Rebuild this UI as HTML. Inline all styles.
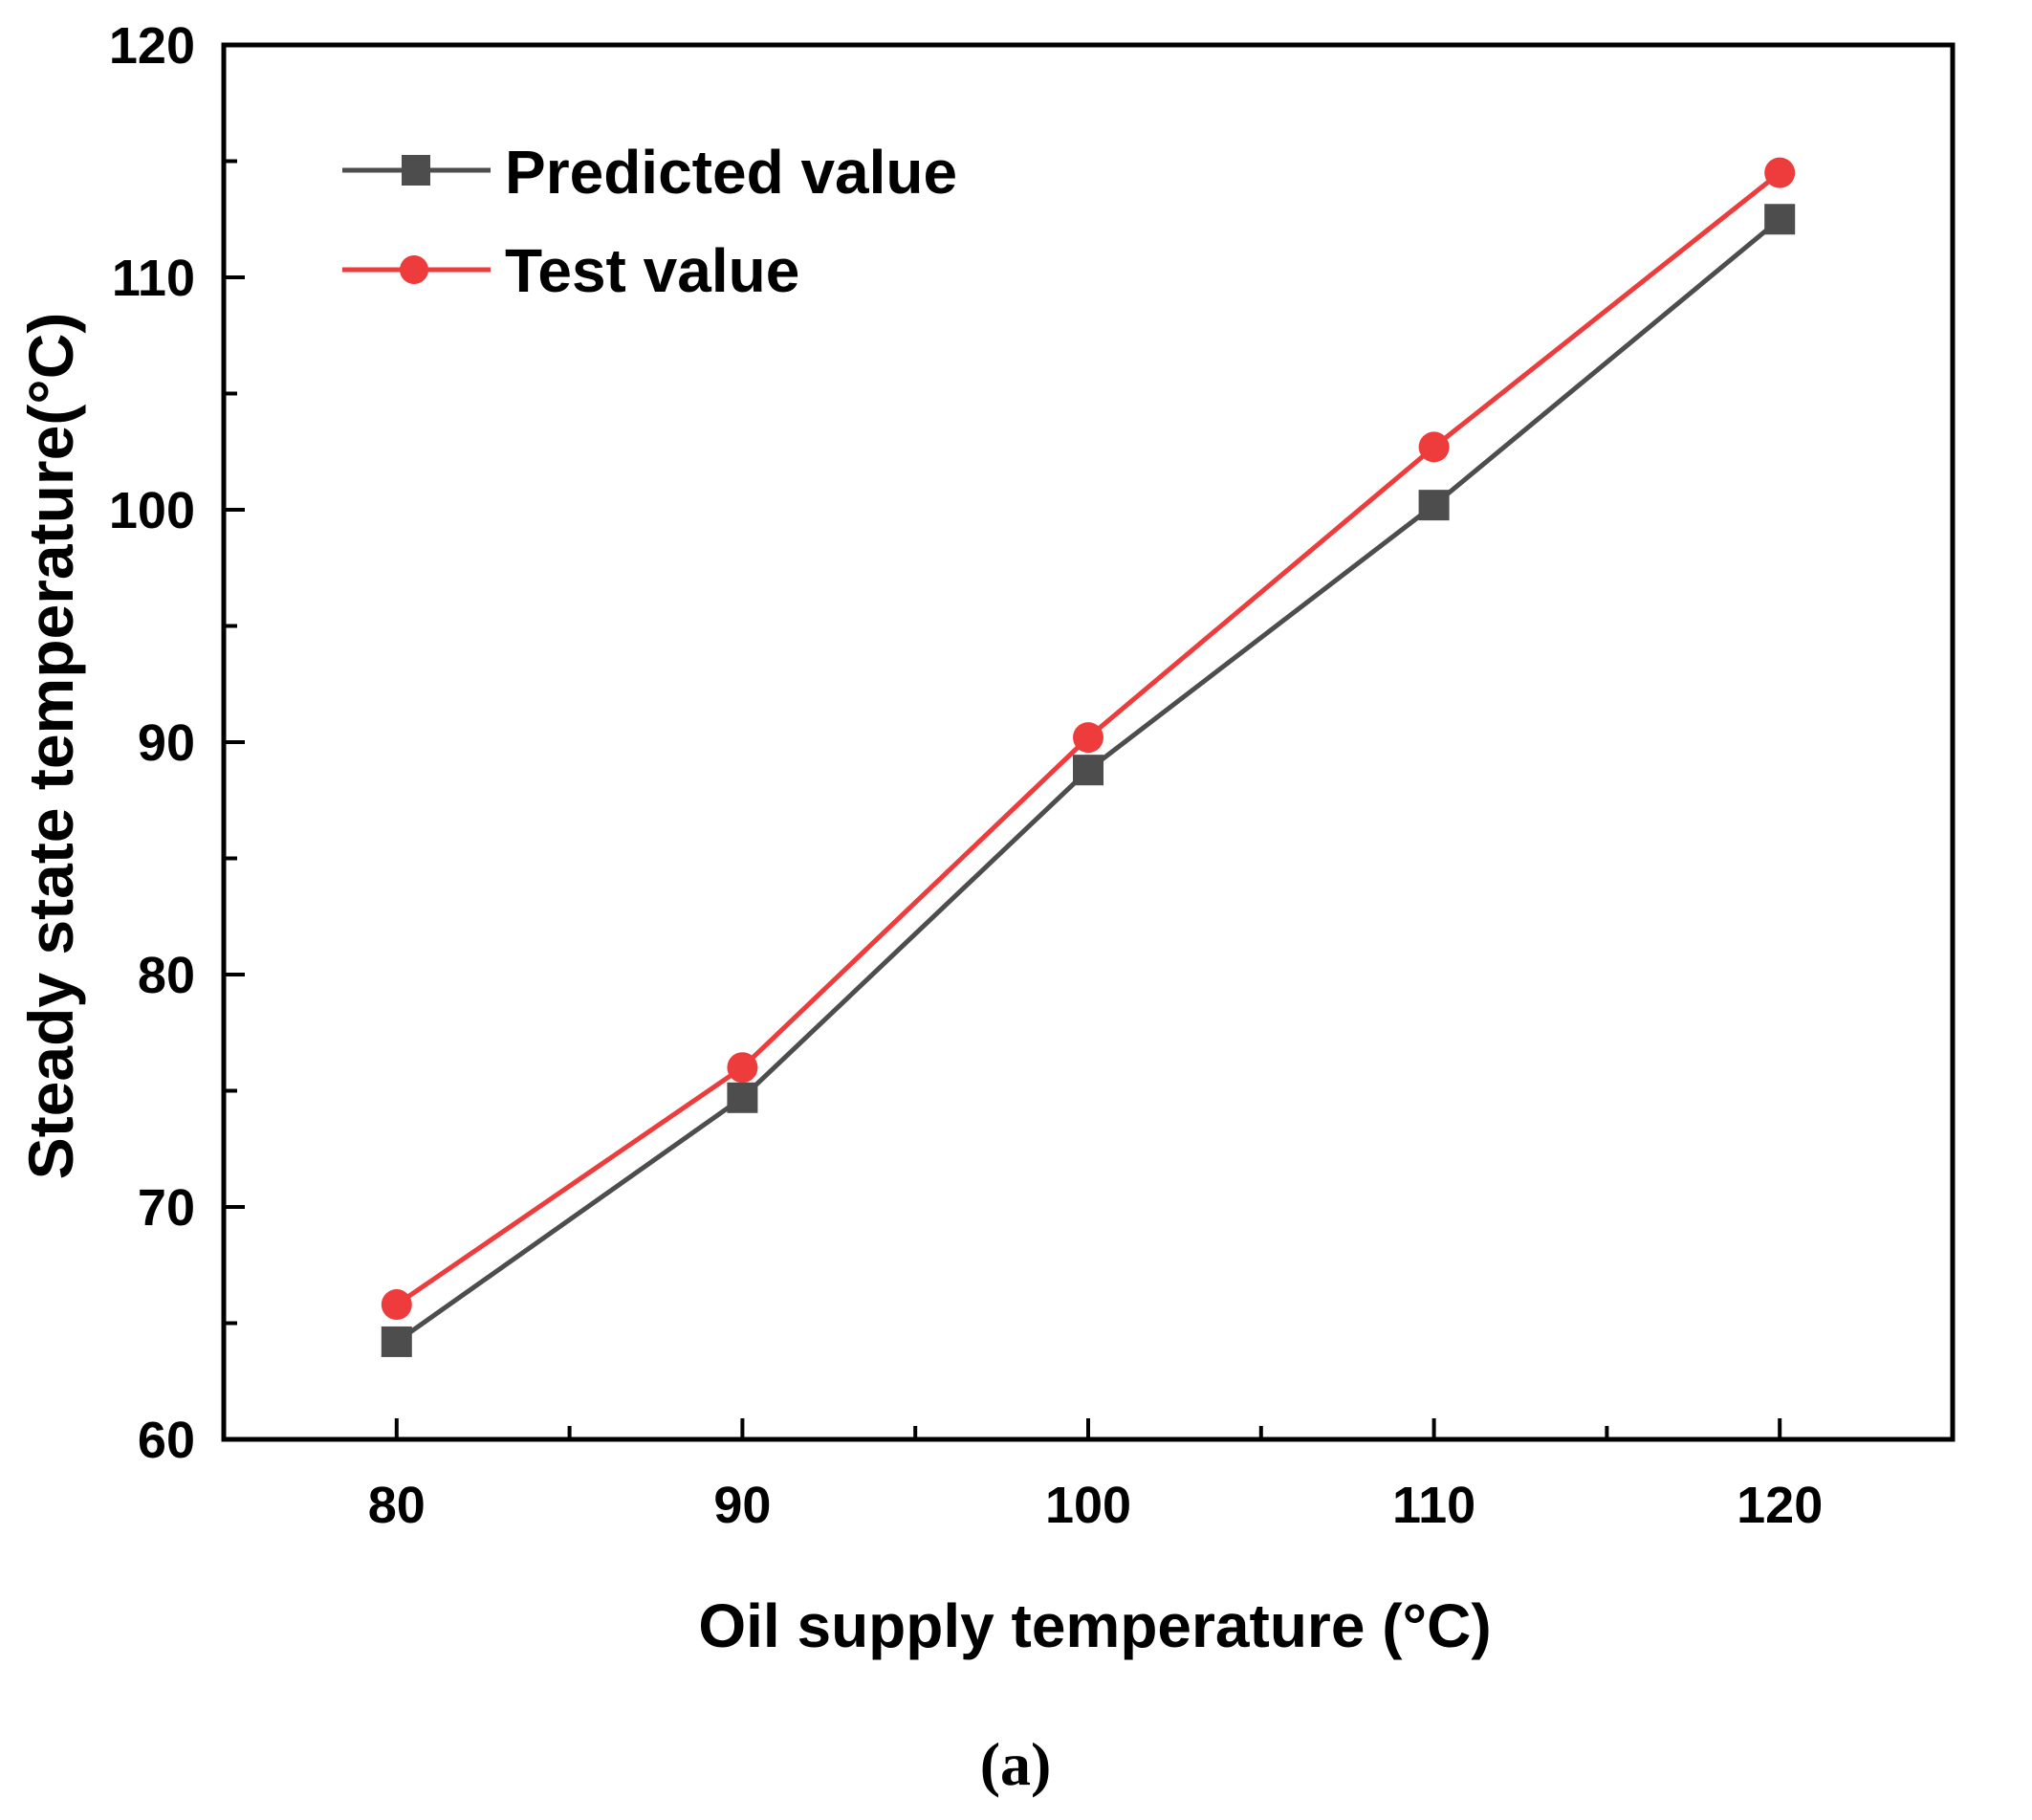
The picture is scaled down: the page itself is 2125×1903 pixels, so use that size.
<!DOCTYPE html>
<html><head><meta charset="utf-8"><style>
body{margin:0;background:#fff;}
svg text{font-family:"Liberation Sans","DejaVu Sans",sans-serif;}
</style></head><body>
<svg id="chart" width="2125" height="1898" xmlns="http://www.w3.org/2000/svg"></svg>
<script>
const categories=[80,90,100,110,120];
const predicted=[64.2,74.7,88.8,100.2,112.5];
const tested=[65.8,76.0,90.2,102.7,114.5];
const yTicks=[60,70,80,90,100,110,120];
const xTicks=[80,90,100,110,120];
const L=234,R=2042,T=47,B=1505;
const xs=v=>L+(v-75)/50*(R-L);
const ys=v=>B-(v-60)/60*(B-T);
const svg=document.getElementById('chart');
const NS='http://www.w3.org/2000/svg';
function mk(tag,attrs,parent){const e=document.createElementNS(NS,tag);for(const k in attrs)e.setAttribute(k,attrs[k]);(parent||svg).appendChild(e);return e;}
for(let v=60;v<=120;v+=5){const major=v%10===0;const t=mk('line',{x1:L,x2:L+(major?22:14),y1:ys(v),y2:ys(v),stroke:'#000','stroke-width':4});

}
for(let v=80;v<=120;v+=5){const major=v%10===0;const t=mk('line',{x1:xs(v),x2:xs(v),y1:B,y2:B-(major?22:14),stroke:'#000','stroke-width':4});

}
yTicks.forEach(v=>{const t=mk('text',{x:204,y:ys(v)+19,'text-anchor':'end','font-size':54,'font-weight':'bold'});t.textContent=v;

});
xTicks.forEach(v=>{const t=mk('text',{x:xs(v),y:1592,'text-anchor':'middle','font-size':54,'font-weight':'bold'});t.textContent=v;

});
function series(vals,color,name,marker){
 const g=mk('g',{});
 
 
 mk('polyline',{points:vals.map((v,i)=>xs(categories[i])+','+ys(v)).join(' '),fill:'none',stroke:color,'stroke-width':5},g);
 vals.forEach((v,i)=>{let m;
  if(marker==='sq')m=mk('rect',{x:xs(categories[i])-16,y:ys(v)-16,width:32,height:32,fill:color},g);
  else m=mk('circle',{cx:xs(categories[i]),cy:ys(v),r:16,fill:color},g);
  
  });
}
series(predicted,'#4d4d4d','predicted-series','sq');
series(tested,'#ee3b3b','test-series','ci');
const f=mk('rect',{x:L,y:T,width:R-L,height:B-T,fill:'none',stroke:'#000','stroke-width':5});


const lg=mk('g',{});


mk('line',{x1:358,x2:513,y1:178,y2:178,stroke:'#4d4d4d','stroke-width':5},lg);
mk('rect',{x:420,y:162,width:30,height:32,fill:'#4d4d4d'},lg);
const t1=mk('text',{x:528,y:202,'font-size':64,'font-weight':'bold'},lg);t1.textContent='Predicted value';
mk('line',{x1:358,x2:513,y1:282,y2:282,stroke:'#ee3b3b','stroke-width':5},lg);
mk('circle',{cx:433,cy:282,r:15,fill:'#ee3b3b'},lg);
const t2=mk('text',{x:528,y:305,'font-size':64,'font-weight':'bold'},lg);t2.textContent='Test value';
const xt=mk('text',{x:1145,y:1722,'text-anchor':'middle','font-size':64,'font-weight':'bold'});xt.textContent='Oil supply temperature (°C)';


const yt=mk('text',{x:0,y:0,'text-anchor':'middle','font-size':66,'font-weight':'bold',transform:'translate(76,780) rotate(-90)'});yt.textContent='Steady state temperature(°C)';


const cap=mk('text',{x:1062,y:1866,'text-anchor':'middle','font-size':64,'font-weight':'bold',style:'font-family:"Liberation Serif",serif'});cap.textContent='(a)';


</script>
</body></html>
